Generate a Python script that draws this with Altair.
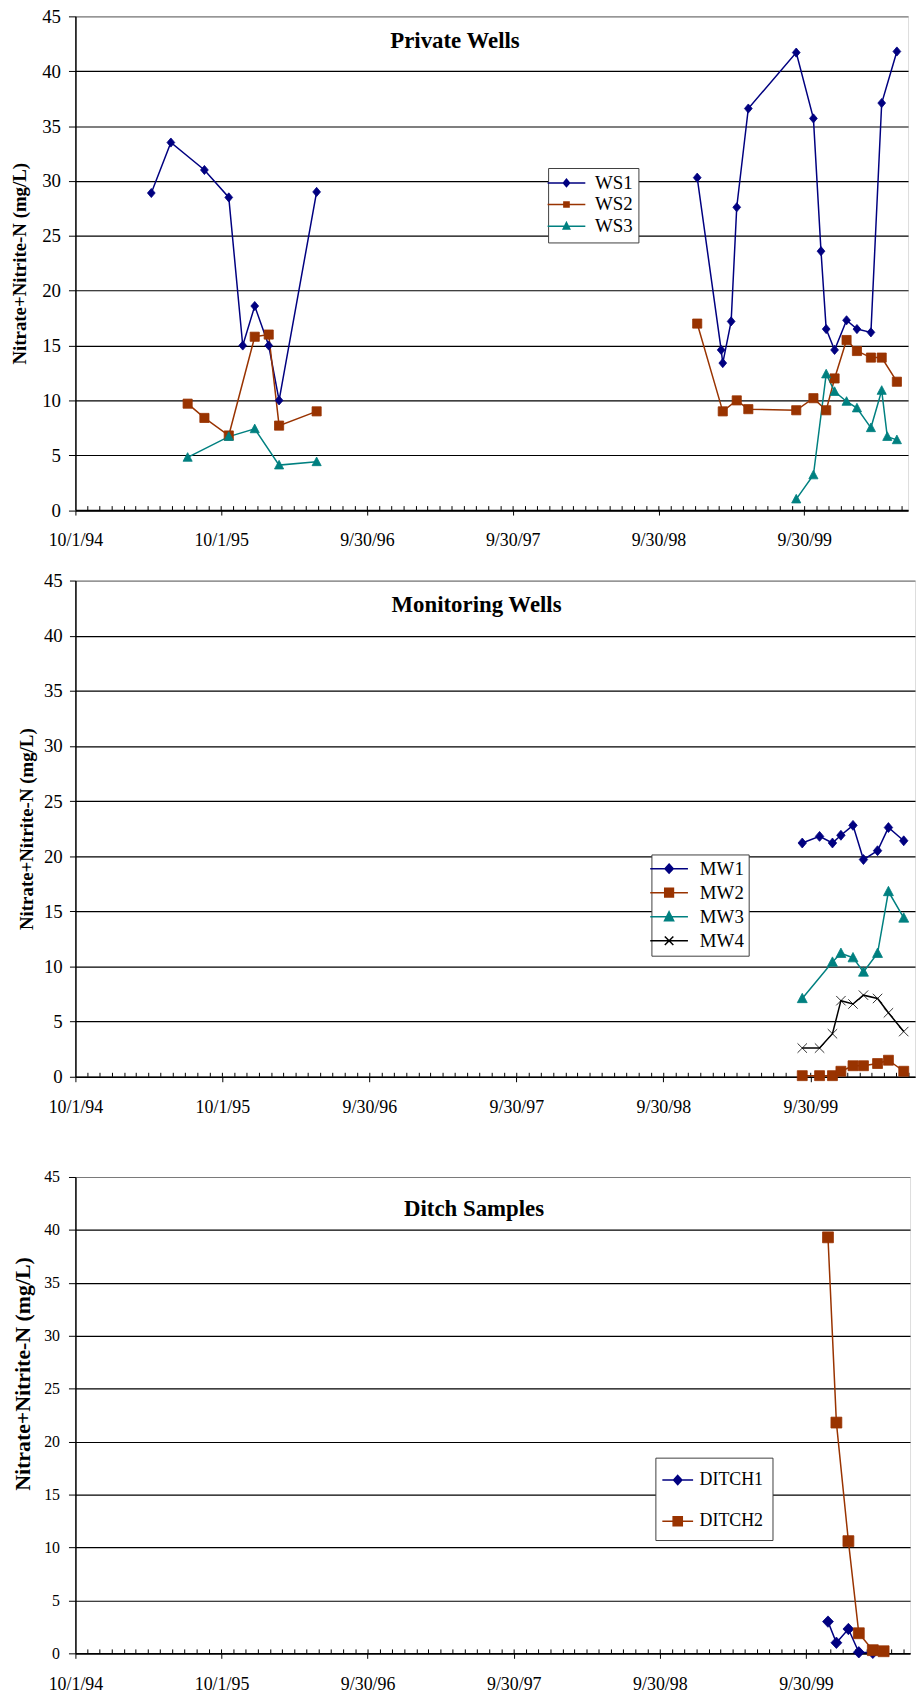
import altair as alt
import pandas as pd

FONT = "Liberation Serif"
NAVY, RUST, TEAL, BLACK = "#000080", "#993300", "#008080", "#000000"

# ---------------- data ----------------
# Private wells
ws1_dates = ["1995-04-09", "1995-05-28", "1995-08-20", "1995-10-20", "1995-11-24",
             "1995-12-24", "1996-01-28", "1996-02-23", "1996-05-27",
             "1999-01-05", "1999-03-06", "1999-03-10", "1999-03-31", "1999-04-14",
             "1999-05-13", "1999-09-10", "1999-10-23", "1999-11-11", "1999-11-24",
             "1999-12-15", "2000-01-14", "2000-02-09", "2000-03-15", "2000-04-11",
             "2000-05-19"]
ws1_vals = [28.9, 33.5, 31.0, 28.5, 15.0, 18.6, 15.0, 10.0, 29.0,
            30.3, 14.6, 13.4, 17.2, 27.6, 36.6, 41.7, 35.7, 23.6, 16.5,
            14.6, 17.3, 16.5, 16.2, 37.1, 41.8]
ws2_dates = ["1995-07-09", "1995-08-20", "1995-10-20", "1995-12-24", "1996-01-28",
             "1996-02-23", "1996-05-27",
             "1999-01-05", "1999-03-10", "1999-04-14", "1999-05-13", "1999-09-10",
             "1999-10-23", "1999-11-24", "1999-12-15", "2000-01-14", "2000-02-09",
             "2000-03-15", "2000-04-11", "2000-05-19"]
ws2_vals = [9.7, 8.4, 6.8, 15.8, 16.0, 7.7, 9.0,
            17.0, 9.0, 10.0, 9.2, 9.1, 10.2, 9.1, 12.0, 15.5, 14.5, 13.9, 13.9, 11.7]
ws3_dates = ["1995-07-09", "1995-10-20", "1995-12-24", "1996-02-23", "1996-05-27",
             "1999-09-10", "1999-10-23", "1999-11-24", "1999-12-15", "2000-01-14",
             "2000-02-09", "2000-03-15", "2000-04-11", "2000-04-25", "2000-05-19"]
ws3_vals = [4.8, 6.7, 7.4, 4.1, 4.4, 1.0, 3.2, 12.4, 10.8, 9.9, 9.3, 7.5, 10.9, 6.7, 6.4]

# Monitoring wells
mw_dates = ["1999-09-10", "1999-10-23", "1999-11-24", "1999-12-15", "2000-01-14",
            "2000-02-09", "2000-03-15", "2000-04-11", "2000-05-19"]
mw1_vals = [21.2, 21.8, 21.2, 21.9, 22.8, 19.7, 20.5, 22.6, 21.4]
mw2_vals = [0.1, 0.1, 0.1, 0.5, 1.0, 1.0, 1.2, 1.5, 0.5]
mw3_dates = ["1999-09-10", "1999-11-24", "1999-12-15", "2000-01-14", "2000-02-09",
             "2000-03-15", "2000-04-11", "2000-05-19"]
mw3_vals = [7.1, 10.4, 11.2, 10.8, 9.5, 11.2, 16.8, 14.4]
mw4_vals = [2.6, 2.6, 3.9, 6.9, 6.6, 7.4, 7.1, 5.8, 4.1]

# Ditch samples
ditch1_dates = ["1999-11-24", "1999-12-15", "2000-01-14", "2000-02-09", "2000-03-15"]
ditch1_vals = [3.0, 1.0, 2.3, 0.1, 0.05]
ditch2_dates = ["1999-11-24", "1999-12-15", "2000-01-14", "2000-02-09", "2000-03-15",
                "2000-04-11"]
ditch2_vals = [39.3, 21.8, 10.6, 1.9, 0.3, 0.2]

# axis
major_ticks = ["1994-10-01", "1995-10-01", "1996-09-30", "1997-09-30", "1998-09-30",
               "1999-09-30"]
x_start, x_end = "1994-10-01", "2000-06-16"
y_ticks = [0, 5, 10, 15, 20, 25, 30, 35, 40, 45]
y_title = "Nitrate+Nitrite-N (mg/L)"


def dt(s):
    y, m, d = (int(p) for p in s.split("-"))
    return alt.DateTime(year=y, month=m, date=d)


def make_df(series):
    rows = []
    for name, dates, vals in series:
        for d, v in zip(dates, vals):
            rows.append({"date": d + "T00:00:00", "value": v, "series": name,
                         "period": "early" if d < "1998" else "late"})
    return pd.DataFrame(rows)


minor_df = pd.DataFrame({
    "date": pd.date_range("1994-11-01", "2000-06-01", freq="MS").strftime("%Y-%m-%dT00:00:00")
})


# ---------------- symbol paths (unit box, scaled by sqrt(size)/2) ----------------
def f(v):
    return f"{v:.3f}"


def diamond(w, h, k=1.0, cx=0.0):
    w, h, c = w / k, h / k, cx / k
    return f"M{f(c)},{f(-h)}L{f(c + w)},0L{f(c)},{f(h)}L{f(c - w)},0Z"


def square(s, k=1.0, cx=0.0):
    s, c = s / k, cx / k
    return f"M{f(c - s)},{f(-s)}H{f(c + s)}V{f(s)}H{f(c - s)}Z"


def triangle(w, h, k=1.0, cx=0.0):
    w, h, c = w / k, h / k, cx / k
    return f"M{f(c)},{f(-h)}L{f(c + w)},{f(0.8 * h)}L{f(c - w)},{f(0.8 * h)}Z"


def xmark(s, k=1.0, cx=0.0):
    s, c = s / k, cx / k
    return (f"M{f(c - s)},{f(-s)}L{f(c + s)},{f(s)}"
            f"M{f(c - s)},{f(s)}L{f(c + s)},{f(-s)}")


def leg_path(marker, r, left=15.5, right=15.5):
    """legend symbol: horizontal line through a marker; r = pixel radius of the unit box"""
    return f"M{f(-left / r)},0H{f(right / r)}" + marker


def panel(df, names, colors, plot_shapes, legend_shapes, *, width, height, title,
          title_dx, title_dy, ylab_size, ylab_pad, ytick, ytitle_size, ytitle_pad,
          point_size, leg, ytitle_y=None, stroke_widths=None):
    xaxis = alt.Axis(values=[dt(d) for d in major_ticks], format="%-m/%-d/%y",
                     labelFont=FONT, labelFontSize=18, labelColor="black",
                     labelPadding=17, labelFlush=False, labelOverlap=False,
                     tickSize=5, tickColor="black", tickWidth=1,
                     domainColor="black", domainWidth=1.5, grid=False, title=None)
    yaxis_kw = dict(values=y_ticks, labelFont=FONT, labelFontSize=ylab_size,
                    labelColor="black", labelPadding=ylab_pad, tickSize=ytick,
                    tickColor="black", tickWidth=1, domainColor="black", domainWidth=1.5,
                    grid=True,
                    gridColor={"condition": {"test": "datum.value === 45", "value": "#7a7a7a"},
                               "value": "black"},
                    gridWidth=1.2, title=y_title, titleFont=FONT,
                    titleFontSize=ytitle_size, titleFontWeight="bold", titleColor="black",
                    titlePadding=ytitle_pad)
    if ytitle_y is not None:
        yaxis_kw["titleY"] = ytitle_y
    yaxis = alt.Axis(**yaxis_kw)

    xscale = alt.Scale(domain=[dt(x_start), dt(x_end)], nice=False)
    yscale = alt.Scale(domain=[0, 45], nice=False)
    x = alt.X("date:T", scale=xscale, axis=xaxis)
    y = alt.Y("value:Q", scale=yscale, axis=yaxis)
    cscale = alt.Scale(domain=names, range=colors)

    minor = alt.Chart(minor_df).mark_rule(color="black", strokeWidth=1).encode(
        x=x, y=alt.value(height), y2=alt.value(height - 4))

    lines = alt.Chart(df).mark_line(strokeWidth=1.5).encode(
        x=x, y=y,
        color=alt.Color("series:N", scale=cscale, legend=None),
        detail="period:N")

    point_enc = dict(
        x=x, y=y,
        color=alt.Color("series:N", scale=cscale, legend=None),
        stroke=alt.Stroke("series:N", scale=cscale, legend=None),
        shape=alt.Shape("series:N", scale=alt.Scale(domain=names, range=plot_shapes),
                        legend=None))
    if stroke_widths:
        point_enc["strokeWidth"] = alt.StrokeWidth(
            "series:N", scale=alt.Scale(domain=names, range=stroke_widths), legend=None)
    points = alt.Chart(df).mark_point(filled=True, size=point_size, strokeWidth=0.8,
                                      opacity=1).encode(**point_enc)

    lg = dict(orient="none", legendX=leg["x"], legendY=leg["y"], title=None,
              padding=leg["pad"], rowPadding=leg["rp"], symbolSize=leg["size"],
              symbolStrokeWidth=1.5, labelOffset=leg["lo"],
              labelFont=FONT, labelFontSize=leg["fs"], labelColor="black",
              strokeColor="#404040", fillColor="white")
    if leg.get("expr"):
        lg["labelExpr"] = leg["expr"]
    legend_layer = alt.Chart(df).transform_filter("false").mark_point(
        filled=True, size=leg["size"], strokeWidth=1.5, opacity=1).encode(
        x=x, y=y,
        color=alt.Color("series:N", scale=cscale, legend=alt.Legend(**lg)),
        stroke=alt.Stroke("series:N", scale=cscale, legend=alt.Legend(**lg)),
        shape=alt.Shape("series:N", scale=alt.Scale(domain=names, range=legend_shapes),
                        legend=alt.Legend(**lg)))

    return alt.layer(minor, lines, points, legend_layer).resolve_scale(
        color="independent", stroke="independent", shape="independent",
        strokeWidth="independent"
    ).properties(
        width=width, height=height,
        title=alt.TitleParams(title, font=FONT, fontSize=23, fontWeight="bold",
                              color="black", anchor="middle", frame="group", orient="top",
                              offset=0, baseline="alphabetic", dx=title_dx, dy=title_dy))


# ---------------- panels ----------------
df1 = make_df([("WS1", ws1_dates, ws1_vals), ("WS2", ws2_dates, ws2_vals),
               ("WS3", ws3_dates, ws3_vals)])
df2 = make_df([("MW1", mw_dates, mw1_vals), ("MW2", mw_dates, mw2_vals),
               ("MW3", mw3_dates, mw3_vals), ("MW4", mw_dates, mw4_vals)])
df3 = make_df([("DITCH1", ditch1_dates, ditch1_vals), ("DITCH2", ditch2_dates, ditch2_vals)])

NB = "datum.label + '\u00a0'"
NB2 = "datum.label + '\u00a0\u00a0'"

R12 = 5.0      # legend symbol radius (px) for panels 1-2 (size 100)
R3 = 12.75     # legend symbol radius (px) for panel 3 (size 650)
EXT = 7.0      # extra legend line length on the right (px), marker re-centred
C = EXT / 2

p1 = panel(df1, ["WS1", "WS2", "WS3"], [NAVY, RUST, TEAL],
           [diamond(0.85, 1.0), square(1), triangle(1, 1.05)],
           [leg_path(diamond(3.1, 3.7, R12, C), R12, right=15.5 + EXT),
            leg_path(square(2.6, R12, C), R12, right=15.5 + EXT),
            leg_path(triangle(3.3, 3.7, R12, C), R12, right=15.5 + EXT)],
           width=839, height=497.5, title="Private Wells", title_dx=-37, title_dy=63.5,
           ylab_size=19, ylab_pad=8, ytick=7, ytitle_size=19, ytitle_pad=12,
           point_size=85,
           leg=dict(x=476.3, y=152.8, pad=5.5, rp=1.8, size=100, lo=22.7,
                    fs=19, expr=NB2))

p2 = panel(df2, ["MW1", "MW2", "MW3", "MW4"], [NAVY, RUST, TEAL, BLACK],
           [diamond(0.85, 1.0), square(1), triangle(1, 1.05), xmark(0.95)],
           [leg_path(diamond(4.2, 4.6, R12, C), R12, right=15.5 + EXT),
            leg_path(square(4.4, R12, C), R12, right=15.5 + EXT),
            leg_path(triangle(4.6, 5.0, R12, C), R12, right=15.5 + EXT),
            leg_path(xmark(4.3, R12, C), R12, right=15.5 + EXT)],
           width=846, height=500, title="Monitoring Wells", title_dx=-18.8, title_dy=63.3,
           ylab_size=19, ylab_pad=7.3, ytick=6, ytitle_size=19, ytitle_pad=7,
           point_size=100, stroke_widths=[0.8, 0.8, 0.8, 1.4],
           leg=dict(x=580.4, y=276, pad=4.8, rp=4.2, size=100, lo=25,
                    fs=19, expr=NB))

p3 = panel(df3, ["DITCH1", "DITCH2"], [NAVY, RUST],
           [diamond(1.0, 1.05), square(1)],
           [leg_path(diamond(4.2, 4.6, R3), R3), leg_path(square(4.6, R3), R3)],
           width=841, height=480, title="Ditch Samples", title_dx=-18.8, title_dy=70,
           ylab_size=16, ylab_pad=9, ytick=7, ytitle_size=22, ytitle_pad=9.3,
           ytitle_y=198, point_size=120,
           leg=dict(x=584.4, y=282.8, pad=9, rp=18.6, size=650, lo=8.5, fs=18))

top = alt.concat(p1, p2, columns=1, spacing=20.5, align="none")
chart = alt.concat(top, p3, columns=1, spacing=51.5, align="none").properties(
    padding={"left": 10, "top": 0, "right": 0, "bottom": 0}
).configure_view(stroke=None).configure(font=FONT)

chart.save("out.html", embed_options={"renderer": "svg", "actions": False})
